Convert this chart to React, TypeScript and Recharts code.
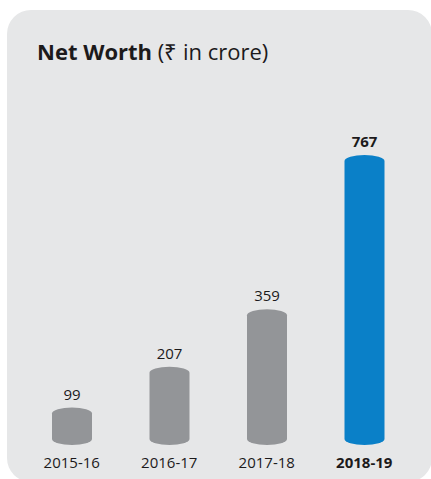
import { BarChart, Bar, XAxis, YAxis, LabelList, Cell } from 'recharts';

const years = ['2015-16', '2016-17', '2017-18', '2018-19'];
const netWorth = [99, 207, 359, 767];
const highlightYear = '2018-19';

const data = years.map((year, i) => ({ year, value: netWorth[i] }));

const GREY = '#939598';
const BLUE = '#0a80c8';
const INK = '#1c1a1b';

// cylinder: rect with elliptical top and bottom
const Cylinder = (props: any) => {
    const { x, y, width, height, fill } = props;
    if (!height || height <= 0) return null;
    const rx = width / 2;
    const ry = Math.min(6, height / 2);
    const d = `M${x},${y + ry} A${rx},${ry} 0 0 1 ${x + width},${y + ry} L${x + width},${y + height - ry} A${rx},${ry} 0 0 1 ${x},${y + height - ry} Z`;
    return <path d={d} fill={fill} />;
};

const ValueLabel = (props: any) => {
    const { x, y, width, value, index } = props;
    const bold = years[index] === highlightYear;
    return (
        <text
            x={x + width / 2}
            y={y - 8}
            textAnchor="middle"
            fontSize={15}
            fontWeight={bold ? 700 : 400}
            fill={INK}
            fontFamily="'Open Sans', sans-serif"
        >
            {value}
        </text>
    );
};

const YearTick = (props: any) => {
    const { x, y, payload } = props;
    const bold = payload.value === highlightYear;
    return (
        <text
            x={x}
            y={y + 15}
            textAnchor="middle"
            fontSize={15}
            fontWeight={bold ? 700 : 400}
            fill={INK}
            fontFamily="'Open Sans', sans-serif"
        >
            {payload.value}
        </text>
    );
};

export default function App() {
    return (
        <div style={{ position: 'absolute', left: 0, top: 0, width: 431, height: 479, overflow: 'hidden', background: '#fff' }}>
            <div
                style={{
                    position: 'absolute',
                    left: 7,
                    top: 10,
                    width: 425,
                    height: 472,
                    borderRadius: 24,
                    background: '#e6e7e8',
                }}
            />
            <div
                style={{
                    position: 'absolute',
                    left: 37,
                    top: 36,
                    fontFamily: "'Open Sans', sans-serif",
                    fontSize: 22,
                    color: INK,
                    whiteSpace: 'nowrap',
                }}
            >
                <span style={{ fontWeight: 700 }}>Net Worth</span> (₹ in crore)
            </div>
            <div style={{ position: 'absolute', left: 0, top: 0 }}>
                <BarChart width={431} height={479} data={data} margin={{ top: 155, right: 18, bottom: 4, left: 23 }}>
                    <XAxis dataKey="year" axisLine={false} tickLine={false} height={30} tick={<YearTick />} interval={0} />
                    <YAxis hide domain={[0, 767]} />
                    <Bar dataKey="value" barSize={40} shape={<Cylinder />} isAnimationActive={false}>
                        {data.map((d) => (
                            <Cell key={d.year} fill={d.year === highlightYear ? BLUE : GREY} />
                        ))}
                        <LabelList dataKey="value" content={<ValueLabel />} />
                    </Bar>
                </BarChart>
            </div>
        </div>
    );
}
